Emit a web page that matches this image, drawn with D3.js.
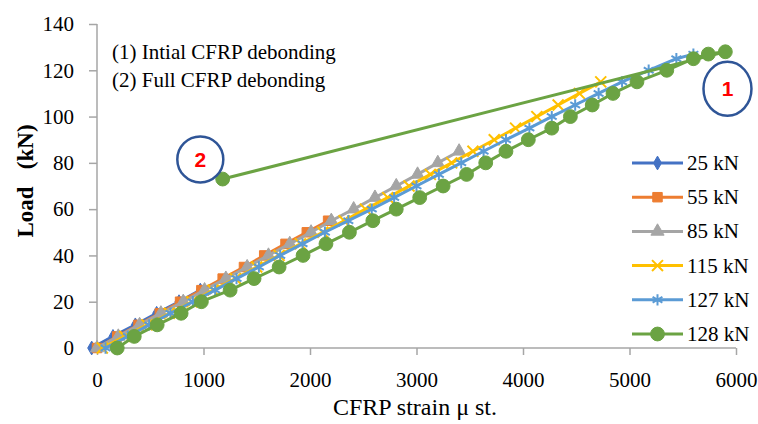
<!DOCTYPE html>
<html>
  <head>
    <meta charset="utf-8">
    <script type="text/javascript" src="https://cdn.jsdelivr.net/npm/d3@7"></script>
    <style>
      body { margin: 0; background: #fff; }
      text { font-family: "Liberation Serif", "Times New Roman", serif; fill: #000; }
      .axis path, .axis line { stroke: #a6a6a6; stroke-width: 1.5; }
      .axis text { font-size: 21px; }
    </style>
  </head>
  <body>
    <div id="chart"></div>
  <script>
  //data - load steps (kN) and CFRP strain readings for each test
  var seriesNames = ['25 kN', '55 kN', '85 kN', '115 kN', '127 kN', '128 kN'];
  var colors = ['#4472c4', '#ed7d31', '#a5a5a5', '#ffc000', '#5b9bd5', '#6ba343'];

  var load25 = [0, 5, 10, 15, 20, 25];
  var strain25 = [-50, 150, 360, 560, 770, 970];

  var load55 = [0, 5, 10, 15, 20, 25, 30, 35, 40, 45, 50, 55];
  var strain55 = [0, 190, 390, 590, 780, 980, 1180, 1380, 1570, 1770, 1970, 2170];

  var load85 = [0, 5, 10, 15, 20, 25, 30, 35, 40, 45, 50, 55, 60, 65, 70, 75, 80, 85];
  var strain85 = [0, 200, 400, 600, 810, 1010, 1210, 1410, 1610, 1810, 2010, 2200, 2410, 2610, 2810, 3010, 3200, 3400];

  var load115 = [0, 5, 10, 15, 20, 25, 30, 35, 40, 45, 50, 55, 60, 65, 70, 75, 80, 85, 90, 95, 100, 105, 110, 115];
  var strain115 = [50, 260, 470, 680, 890, 1090, 1300, 1500, 1710, 1910, 2120, 2320, 2520, 2730, 2930, 3130, 3330, 3530, 3730, 3930, 4130, 4330, 4530, 4730];

  var load127 = [0, 5, 10, 15, 20, 25, 30, 35, 40, 45, 50, 55, 60, 65, 70, 75, 80, 85, 90, 95, 100, 105, 110, 115, 120, 125, 127];
  var strain127 = [80, 290, 490, 690, 900, 1110, 1310, 1520, 1720, 1930, 2140, 2360, 2580, 2790, 3000, 3210, 3420, 3630, 3840, 4060, 4270, 4490, 4710, 4930, 5180, 5440, 5600];

  var load128 = [0, 5, 10, 15, 20, 25, 30, 35, 40, 45, 50, 55, 60, 65, 70, 75, 80, 85, 90, 95, 100, 105, 110, 115, 120, 125, 127, 128, 73];
  var strain128 = [190, 350, 565, 790, 980, 1250, 1475, 1710, 1935, 2150, 2370, 2590, 2810, 3030, 3250, 3470, 3650, 3840, 4050, 4270, 4445, 4650, 4845, 5070, 5350, 5600, 5740, 5900, 1180];

  var xTicks = [0, 1000, 2000, 3000, 4000, 5000, 6000];
  var yTicks = [0, 20, 40, 60, 80, 100, 120, 140];

  var notes = ['(1) Intial CFRP debonding', '(2) Full CFRP debonding'];

  (function (d3) {
    'use strict';

    var width = 758;
    var height = 424;
    var margin = {top: 24, right: 22, bottom: 76, left: 97};

    var loads = [load25, load55, load85, load115, load127, load128];
    var strains = [strain25, strain55, strain85, strain115, strain127, strain128];
    var dataset = seriesNames.map(function (name, i) {
      return {
        name: name,
        color: colors[i],
        points: loads[i].map(function (l, j) { return {x: strains[i][j], y: l}; })
      };
    });

    // marker shapes like the excel defaults
    var shapes = [
      {type: d3.symbolDiamond, size: 55, fill: true},
      {type: d3.symbolSquare, size: 90, fill: true},
      {type: d3.symbolTriangle, size: 75, fill: true},
      {type: d3.symbolTimes, size: 80, fill: false},
      {type: d3.symbolAsterisk, size: 90, fill: false},
      {type: d3.symbolCircle, size: 150, fill: true}
    ];

    var svg = d3.select('#chart')
      .append('svg')
      .attr('width', width)
      .attr('height', height);

    var x = d3.scaleLinear().domain([0, 6000]).range([margin.left, width - margin.right]);
    var y = d3.scaleLinear().domain([0, 140]).range([height - margin.bottom, margin.top]);

    //axes
    svg.append('g')
      .attr('class', 'axis')
      .attr('transform', 'translate(0,' + y(0) + ')')
      .call(d3.axisBottom(x).tickValues(xTicks).tickSize(7).tickPadding(17).tickFormat(d3.format('d')))
      .call(function (g) { g.select('.domain').attr('d', 'M' + x(0) + ',0H' + x(6000)); });

    svg.append('g')
      .attr('class', 'axis')
      .attr('transform', 'translate(' + x(0) + ',0)')
      .call(d3.axisLeft(y).tickValues(yTicks).tickSize(8).tickPadding(15))
      .call(function (g) { g.select('.domain').attr('d', 'M0,' + y(140) + 'V' + y(0)); });

    svg.selectAll('.axis text').attr('fill', '#000');

    svg.append('text')
      .attr('x', 415)
      .attr('y', 415)
      .attr('text-anchor', 'middle')
      .style('font-size', '24px')
      .text('CFRP strain \u03bc st.');

    svg.append('text')
      .attr('transform', 'translate(33,181) rotate(-90)')
      .attr('text-anchor', 'middle')
      .style('font-size', '23px')
      .style('font-weight', 'bold')
      .style('white-space', 'pre')
      .text('Load   (kN)');

    //lines and markers
    var line = d3.line()
      .x(function (d) { return x(d.x); })
      .y(function (d) { return y(d.y); });

    var series = svg.selectAll('.series')
      .data(dataset)
      .enter()
      .append('g')
      .attr('class', 'series');

    series.append('path')
      .attr('d', function (d) { return line(d.points); })
      .attr('fill', 'none')
      .attr('stroke', function (d) { return d.color; })
      .attr('stroke-width', 3)
      .attr('stroke-linejoin', 'round');

    series.each(function (d, i) {
      var s = shapes[i];
      d3.select(this).selectAll('.mark')
        .data(d.points)
        .enter()
        .append('path')
        .attr('class', 'mark')
        .attr('transform', function (p) { return 'translate(' + x(p.x) + ',' + y(p.y) + ')'; })
        .attr('d', d3.symbol().type(s.type).size(s.size))
        .attr('fill', s.fill ? d.color : 'none')
        .attr('stroke', d.color)
        .attr('stroke-width', s.fill ? 1 : 2);
    });

    //notes
    svg.selectAll('.note')
      .data(notes)
      .enter()
      .append('text')
      .attr('class', 'note')
      .attr('x', 112)
      .attr('y', function (d, i) { return 59 + i * 28; })
      .style('font-size', '21px')
      .text(function (d) { return d; });

    // circled callouts, placed in data space next to the points
    var callouts = [{label: '1', sx: 5920, ly: 112, rx: 24, ry: 27}, {label: '2', sx: 970, ly: 81.5, rx: 23, ry: 23}];
    var callout = svg.selectAll('.callout')
      .data(callouts)
      .enter()
      .append('g')
      .attr('transform', function (d) { return 'translate(' + x(d.sx) + ',' + y(d.ly) + ')'; });

    callout.append('ellipse')
      .attr('rx', function (d) { return d.rx; })
      .attr('ry', function (d) { return d.ry; })
      .attr('fill', '#fff')
      .attr('stroke', '#2f5597')
      .attr('stroke-width', 2.5);

    callout.append('text')
      .attr('text-anchor', 'middle')
      .attr('dy', '0.35em')
      .style('font-family', '"Liberation Sans", Arial, sans-serif')
      .style('font-size', '21px')
      .style('font-weight', 'bold')
      .style('fill', '#ff0000')
      .text(function (d) { return d.label; });

    //legend
    var legend = svg.selectAll('.legend')
      .data(dataset)
      .enter()
      .append('g')
      .attr('class', 'legend')
      .attr('transform', function (d, i) { return 'translate(632,' + (163 + i * 34.2) + ')'; });

    legend.append('line')
      .attr('x1', 0)
      .attr('x2', 51)
      .attr('stroke', function (d) { return d.color; })
      .attr('stroke-width', 3);

    legend.append('path')
      .attr('transform', 'translate(25.5,0)')
      .attr('d', function (d, i) { return d3.symbol().type(shapes[i].type).size(shapes[i].size)(); })
      .attr('fill', function (d, i) { return shapes[i].fill ? d.color : 'none'; })
      .attr('stroke', function (d) { return d.color; })
      .attr('stroke-width', function (d, i) { return shapes[i].fill ? 1 : 2; });

    legend.append('text')
      .attr('x', 55)
      .attr('dy', '0.33em')
      .style('font-size', '21px')
      .text(function (d) { return d.name; });

  })(window.d3);
  </script>
  </body>
</html>
